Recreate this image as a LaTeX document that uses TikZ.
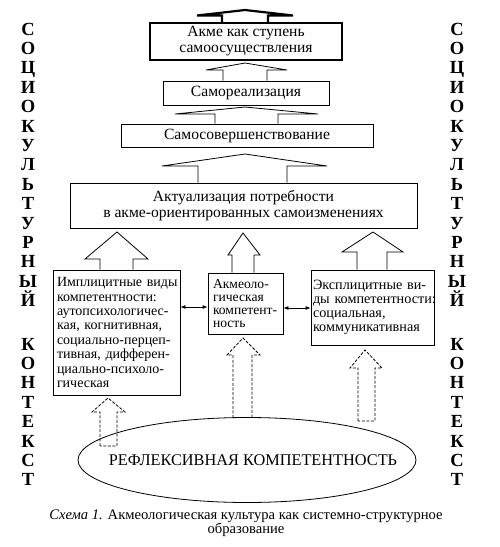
\documentclass[tikz,border=0pt]{standalone}
\usepackage{fontspec}
\setmainfont{Liberation Serif}
\usetikzlibrary{arrows.meta}
\begin{document}
\begin{tikzpicture}[x=1pt,y=-1pt,
  box/.style={draw, line width=0.8pt, inner sep=0pt, align=center},
  lbox/.style={draw, line width=0.8pt, inner ysep=0pt, align=left},
  blk/.style={draw, line width=0.8pt, line join=miter},
  dblk/.style={draw, line width=0.8pt, dash pattern=on 3pt off 1.6pt},
  side/.style={font=\fontsize{18.5}{18}\bfseries\selectfont, anchor=base, inner sep=0pt},
  twoway/.style={{Latex[length=5pt,width=4pt]}-{Latex[length=5pt,width=4pt]}, line width=0.8pt},
  big/.style={font=\fontsize{15.6}{16}\selectfont},
  small/.style={font=\fontsize{14}{14.4}\selectfont}
]
\useasboundingbox (0,0) rectangle (499,547);

% main boxes
\node[box, big, line width=2.5pt, minimum width=192pt, minimum height=37pt] (b1) at (246,41.5) {Акме как ступень\\самоосуществления};
\node[box, big, minimum width=166pt, minimum height=24pt] (b2) at (246,93) {Самореализация};
\node[box, big, minimum width=252pt, minimum height=23pt] (b3) at (247,135.5) {Самосовершенствование};
\node[box, big, minimum width=347pt, minimum height=45pt] (b4) at (243.5,205.5) {Актуализация потребности\\в акме-ориентированных самоизменениях};

\node[lbox, small, minimum width=127pt, minimum height=125pt, inner xsep=4pt, text width=119pt] (bl) at (116.5,332.5)
  {\mbox{Имплицитные виды}\\\mbox{компетентности:}\\\mbox{аутопсихологичес-}\\\mbox{кая, когнитивная,}\\\mbox{социально-перцеп-}\\\mbox{тивная, дифферен-}\\\mbox{циально-психоло-}\\\mbox{гическая}};
\node[lbox, font=\fontsize{13.6}{13.1}\selectfont, minimum width=75pt, minimum height=61pt, inner xsep=5pt, text width=65pt] (bm) at (245.5,303.5)
  {\mbox{Акмеоло-}\\\mbox{гическая}\\\mbox{компетент-}\\\mbox{ность}};
\node[lbox, font=\fontsize{14.2}{14}\selectfont, minimum width=123pt, minimum height=75pt, inner xsep=2pt, text width=119pt] (br) at (372.5,307.5)
  {\mbox{Эксплицитные ви-}\\\mbox{ды компетентности:}\\\mbox{социальная,}\\\mbox{коммуникативная}};

% ellipse
\coordinate (ec) at (247,460);
\draw[line width=0.8pt] (ec) ellipse [x radius=169pt, y radius=42.5pt];
\node[font=\fontsize{16.3}{16}\selectfont, inner sep=0pt] (el) at (253,460) {РЕФЛЕКСИВНАЯ КОМПЕТЕНТНОСТЬ};

% upward block arrows
\draw[blk, line width=2.2pt] (222,0 |- b1.north) -- (222,15.5) -- (197,15.5) -- (245,10) -- (293,15.5) -- (268,15.5) -- (268,0 |- b1.north);
\draw[blk] (223,0 |- b2.north) -- (223,70) -- (206,70) -- (245,63) -- (287,70) -- (267,70) -- (267,0 |- b2.north);
\draw[blk] (215,0 |- b3.north) -- (215,114) -- (175,114) -- (245,107) -- (318,114) -- (278,114) -- (278,0 |- b3.north);
\draw[blk] (198,0 |- b4.north) -- (198,166) -- (162,166) -- (245,154) -- (327,166) -- (287,166) -- (287,0 |- b4.north);

\draw[blk] (100,0 |- bl.north) -- (100,259) -- (85,259) -- (117,232) -- (148,259) -- (133,259) -- (133,0 |- bl.north);
\draw[blk] (232,0 |- bm.north) -- (232,255) -- (228,255) -- (243,233) -- (260,255) -- (254,255) -- (254,0 |- bm.north);
\draw[blk] (357,0 |- br.north) -- (357,252) -- (342,252) -- (373,232) -- (403,252) -- (387,252) -- (387,0 |- br.north);

% dashed block arrows from the ellipse
\draw[dblk] (100,446) -- (100,412) -- (92,412) -- (108,398) -- (125,412) -- (117,412) -- (117,446) -- cycle;
\draw[dblk] (233,418) -- (233,355) -- (227,355) -- (243,338) -- (260,355) -- (252,355) -- (252,418);
\draw[dblk] (358,421) -- (358,368) -- (350,368) -- (365,350) -- (382,368) -- (375,368) -- (375,421) -- cycle;

% two-way arrows
\draw[twoway] (bl.east |- 0,307) -- (bm.west |- 0,307);
\draw[twoway] (bm.east |- 0,308) -- (br.west |- 0,308);

% side texts
\foreach \c [count=\i from 0] in {С,О,Ц,И,О,К,У,Л,Ь,Т,У,Р,Н,Ы,Й} {
  \node[side] (sl\i) at (28,{35+19.4*\i}) {\c};
  \node[side] (sr\i) at (457,{35+19.4*\i}) {\c};
}
\foreach \c [count=\i from 0] in {К,О,Н,Т,Е,К,С,Т} {
  \node[side] (tl\i) at (28,{350+19.4*\i}) {\c};
  \node[side] (tr\i) at (457,{350+19.4*\i}) {\c};
}

% caption
\node[font=\fontsize{14.6}{14}\selectfont, align=center, inner sep=0pt] (cap) at (246,523)
  {\textit{Схема 1.} Акмеологическая культура как системно-структурное\\образование};
\end{tikzpicture}
\end{document}
